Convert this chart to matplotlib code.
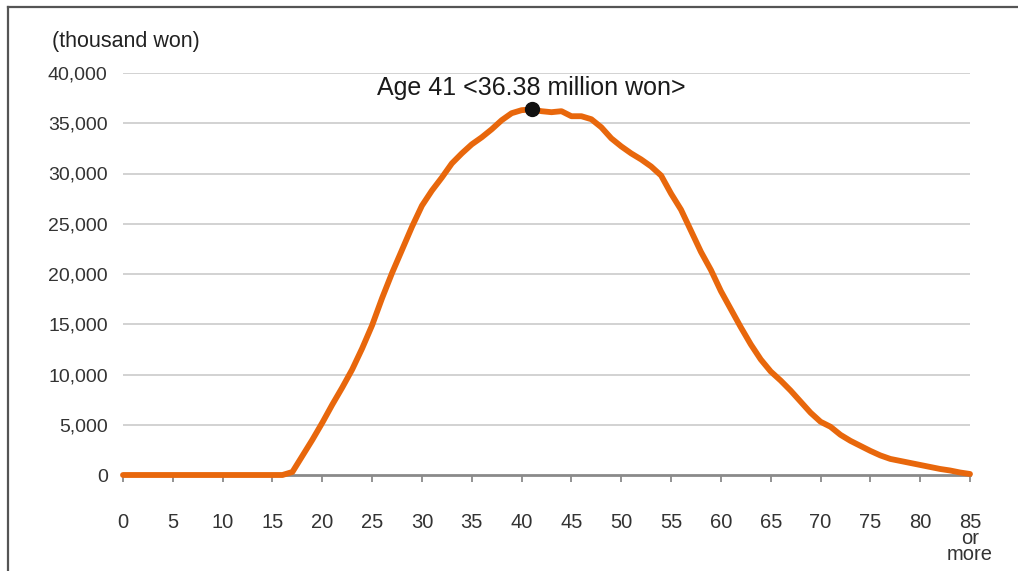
import matplotlib
matplotlib.use("Agg")
import matplotlib.pyplot as plt
from matplotlib.lines import Line2D

ages = list(range(0, 86))
income = [0] * 17 + [
    300, 1900, 3500, 5200, 7000, 8700, 10500, 12600, 14900, 17600,
    20100, 22400, 24700, 26800, 28300, 29600, 31000, 32000, 32900, 33600,
    34400, 35300, 36000, 36300, 36380, 36200, 36100, 36200, 35700, 35700,
    35400, 34600, 33500, 32700, 32000, 31400, 30700, 29800, 28000, 26400,
    24300, 22200, 20400, 18300, 16500, 14700, 13000, 11500, 10300, 9400,
    8400, 7300, 6200, 5300, 4800, 4000, 3400, 2900, 2400, 1950,
    1600, 1400, 1200, 1000, 800, 600, 450, 250, 100,
]
xtick_pos = list(range(0, 86, 5))
xtick_labels = [str(v) for v in range(0, 85, 5)] + ["85\nor\nmore"]
ytick_pos = list(range(0, 40001, 5000))
ytick_labels = [f"{v:,}" for v in ytick_pos]
peak_age = 41
peak_value = 36380
peak_label = "Age 41 <36.38 million won>"
unit_label = "(thousand won)"

W, H = 1018, 571
fig = plt.figure(figsize=(W / 100, H / 100), dpi=100)
fig.patch.set_facecolor("white")

# outer frame (left and top edges visible)
fig.add_artist(Line2D([8 / W, 8 / W], [0, 1 - 7 / H], transform=fig.transFigure,
                      color="#555555", lw=1.6))
fig.add_artist(Line2D([8 / W, 1], [1 - 7 / H, 1 - 7 / H], transform=fig.transFigure,
                      color="#555555", lw=1.6))

ax = fig.add_axes([123 / W, 96 / H, (970 - 123) / W, (475 - 73) / H])
ax.set_xlim(0, 85)
ax.set_ylim(0, 40000)
for s in ["left", "right", "top"]:
    ax.spines[s].set_visible(False)
ax.spines["bottom"].set_color("#8a8a8a")
ax.spines["bottom"].set_linewidth(2)
ax.spines["bottom"].set_zorder(2)

for y in ytick_pos[1:]:
    ax.axhline(y, color="#cfcfcf", lw=1.3, zorder=1)

ax.plot(ages, income, color="#E8670C", lw=4.2, solid_joinstyle="round",
        solid_capstyle="round", zorder=3, clip_on=False)
ax.plot([peak_age], [peak_value], "o", color="#111111", ms=10, zorder=4)

ax.annotate(peak_label, (peak_age, peak_value), xytext=(0, 7),
            textcoords="offset points", ha="center", va="bottom",
            fontsize=18, family="Liberation Sans", color="#1a1a1a")

ax.set_xticks(xtick_pos)
ax.set_xticklabels(xtick_labels, fontsize=14.5, family="Liberation Sans",
                   color="#333333", linespacing=0.8, va="top")
ax.tick_params(axis="x", length=5, width=1.3, color="#8a8a8a", pad=22, direction="out")
ax.set_yticks(ytick_pos)
ax.set_yticklabels(ytick_labels, fontsize=14, family="Liberation Sans",
                   color="#333333")
ax.tick_params(axis="y", length=0, pad=11)

fig.text(52 / W, 1 - 42 / H, unit_label, fontsize=15.5, family="Liberation Sans",
         color="#222222", ha="left", va="center")

fig.savefig("out.png", dpi=100, facecolor="white")
